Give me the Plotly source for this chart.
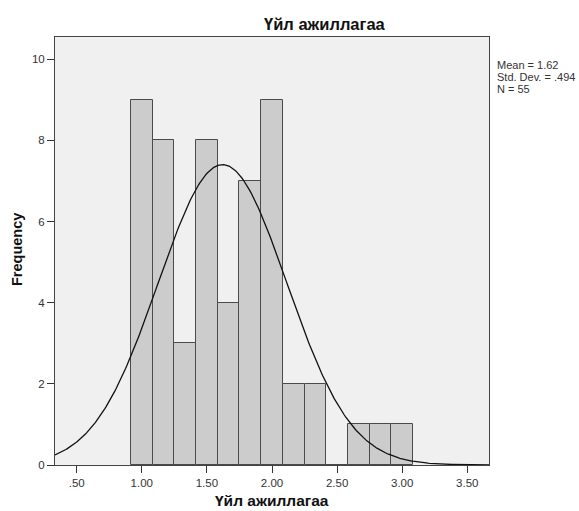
import numpy as np
import plotly.graph_objects as go

# ---- data ----
bin_centers = [1.0, 1.1667, 1.3333, 1.5, 1.6667, 1.8333, 2.0, 2.1667, 2.3333, 2.5, 2.6667, 2.8333, 3.0]
counts = [9, 8, 3, 8, 4, 7, 9, 2, 2, 0, 1, 1, 1]
bin_width = 1 / 6
mean_val = 1.62
std_val = 0.494
n_val = 55
x_tickvals = [0.5, 1.0, 1.5, 2.0, 2.5, 3.0, 3.5]
x_ticktext = [".50", "1.00", "1.50", "2.00", "2.50", "3.00", "3.50"]
y_tickvals = [0, 2, 4, 6, 8, 10]
title_text = "Үйл ажиллагаа"
x_title = "Үйл ажиллагаа"
y_title = "Frequency"
stats_lines = ["Mean = 1.62", "Std. Dev. = .494", "N = 55"]

W, H = 579, 511
L, R, T, B = 55, 90, 37, 46
x_range = [1 / 3, 11 / 3]
y_range = [0, 10.55]

# normal curve scaled to histogram
xc = np.linspace(x_range[0], x_range[1], 400)
yc = n_val * bin_width / (std_val * np.sqrt(2 * np.pi)) * np.exp(-0.5 * ((xc - mean_val) / std_val) ** 2)

fig = go.Figure()
fig.add_trace(go.Bar(
    x=bin_centers, y=counts, width=bin_width,
    marker=dict(color="#cccccc", line=dict(color="#4a4a4a", width=1)),
    hoverinfo="x+y",
))
fig.add_trace(go.Scatter(
    x=xc, y=yc, mode="lines",
    line=dict(color="#111111", width=1.3),
    hoverinfo="skip",
))

def px_to_paper_x(px):
    return (px - L) / (W - L - R)

def px_to_paper_y(py):
    return (H - B - py) / (H - T - B)

FONT = "Arial, Liberation Sans, sans-serif"

fig.add_annotation(
    x=px_to_paper_x(325), y=px_to_paper_y(24), xref="paper", yref="paper",
    text="<b>" + title_text + "</b>", showarrow=False,
    font=dict(family=FONT, size=16.5, color="#111111"),
    xanchor="center", yanchor="middle",
)
fig.add_annotation(
    x=px_to_paper_x(272), y=px_to_paper_y(501), xref="paper", yref="paper",
    text="<b>" + x_title + "</b>", showarrow=False,
    font=dict(family=FONT, size=15.5, color="#111111"),
    xanchor="center", yanchor="middle",
)
fig.add_annotation(
    x=px_to_paper_x(17), y=px_to_paper_y(250), xref="paper", yref="paper",
    text="<b>" + y_title + "</b>", showarrow=False, textangle=-90,
    font=dict(family=FONT, size=14.5, color="#111111"),
    xanchor="center", yanchor="middle",
)
for i, line in enumerate(stats_lines):
    fig.add_annotation(
        x=px_to_paper_x(495), y=px_to_paper_y(65 + 12 * i), xref="paper", yref="paper",
        text=line, showarrow=False, align="left",
        font=dict(family=FONT, size=11, color="#333333"),
        xanchor="left", yanchor="middle",
    )

fig.update_layout(
    width=W, height=H,
    margin=dict(l=L, r=R, t=T, b=B),
    paper_bgcolor="white",
    plot_bgcolor="#f0f0f0",
    showlegend=False,
    bargap=0,
    font=dict(family=FONT, size=11, color="#222222"),
    xaxis=dict(
        range=x_range, tickvals=x_tickvals, ticktext=x_ticktext,
        ticks="outside", ticklen=7, tickcolor="#333333", tickwidth=1,
        showline=True, linecolor="#444444", linewidth=1, mirror=True,
        showgrid=False, zeroline=False, automargin=False,
        tickfont=dict(size=11.5, color="#333333"),
    ),
    yaxis=dict(
        range=y_range, tickvals=y_tickvals,
        ticks="outside", ticklen=7, tickcolor="#333333", tickwidth=1,
        showline=True, linecolor="#444444", linewidth=1, mirror=True,
        showgrid=False, zeroline=False, automargin=False,
        tickfont=dict(size=11.5, color="#333333"),
    ),
)

fig.write_html("out.html")
